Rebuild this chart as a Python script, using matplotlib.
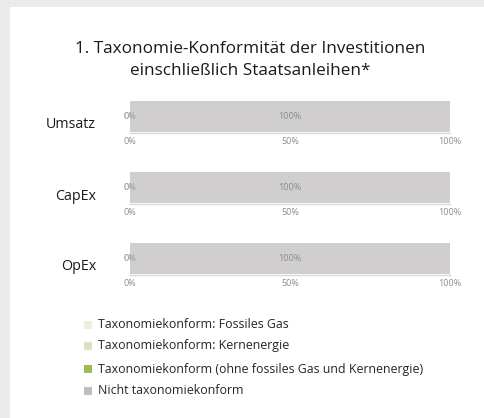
import matplotlib.pyplot as plt
from matplotlib.patches import Rectangle

categories = ["Umsatz", "CapEx", "OpEx"]
series_names = [
    "Taxonomiekonform: Fossiles Gas",
    "Taxonomiekonform: Kernenergie",
    "Taxonomiekonform (ohne fossiles Gas und Kernenergie)",
    "Nicht taxonomiekonform",
]
# one row per category, one value per series (percent)
values = [
    [0, 0, 0, 100],
    [0, 0, 0, 100],
    [0, 0, 0, 100],
]
ticks = [0, 50, 100]
tick_labels = ["0%", "50%", "100%"]
title = "1. Taxonomie-Konformität der Investitionen\neinschließlich Staatsanleihen*"

COLORS = ["#ebf1de", "#d7e4bd", "#9bbb59", "#d0cece"]
LEGEND_COLORS = ["#ebf1de", "#d7e4bd", "#9bbb59", "#bfbfbf"]
FONT = ["Open Sans", "DejaVu Sans"]
W, H = 484, 418

plt.rcParams["font.family"] = FONT
fig = plt.figure(figsize=(W / 100, H / 100), dpi=100)
fig.patch.set_facecolor("#ebebeb")
fig.patches.append(Rectangle((10 / W, 0), 1, 1 - 7 / H, transform=fig.transFigure,
                             facecolor="white", edgecolor="none", zorder=-5))

fig.text(250 / W, 1 - 60 / H, title, ha="center", va="center", fontsize=12.3,
         color="#1a1a1a", linespacing=1.45)

tops = [101, 172, 243]
for cat, vals, top in zip(categories, values, tops):
    ax = fig.add_axes([130 / W, 1 - (top + 32) / H, 320 / W, 32 / H])
    ax.set_facecolor("none")
    left = 0
    for v, c in zip(vals, COLORS):
        ax.barh(0, v, left=left, height=1.0, color=c, align="edge")
        ax.text(left + v / 2, 0.5, f"{v}%", ha="center", va="center",
                fontsize=6.5, color="#8c8c8c" if v else "#b0b0b0")
        left += v
    ax.set_xlim(0, 100)
    ax.set_ylim(-0.03, 1.0)
    ax.set_yticks([])
    ax.set_xticks(ticks)
    ax.set_xticklabels(tick_labels, fontsize=6.5, color="#8c8c8c")
    ax.tick_params(axis="x", length=0, pad=3)
    for s in ["top", "left", "right"]:
        ax.spines[s].set_visible(False)
    ax.spines["bottom"].set_color("#d9d9d9")
    ax.spines["bottom"].set_linewidth(1.0)
    fig.text(96 / W, 1 - (top + 24) / H, cat, ha="right", va="center",
             fontsize=10.3, color="#1a1a1a")

legend_y = [325, 346, 369, 391]
for name, c, y in zip(series_names, LEGEND_COLORS, legend_y):
    fig.patches.append(Rectangle((84 / W, 1 - (y + 4) / H), 8 / W, 8 / H,
                                 transform=fig.transFigure, facecolor=c,
                                 edgecolor="none"))
    fig.text(98 / W, 1 - y / H, name, ha="left", va="center", fontsize=8.9,
             color="#262626")

fig.savefig("out.png", dpi=100)
